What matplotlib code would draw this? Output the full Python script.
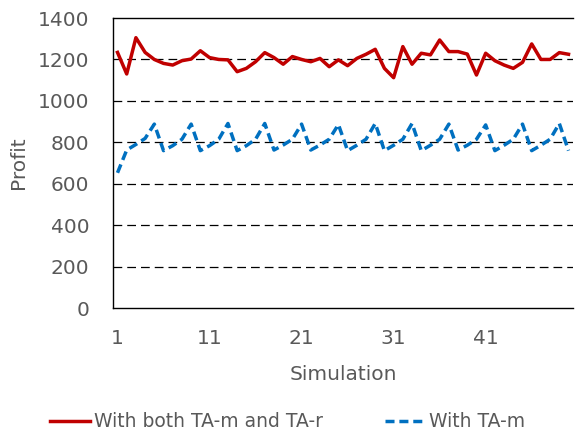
import matplotlib.pyplot as plt
import numpy as np

sims = np.arange(1, 51)

# With both TA-m and TA-r
both = [1234, 1130, 1305, 1234, 1200, 1181, 1173, 1194, 1202, 1242,
        1209, 1200, 1198, 1141, 1157, 1189, 1233, 1209, 1177, 1214,
        1200, 1189, 1205, 1165, 1198, 1170, 1205, 1225, 1249, 1157,
        1112, 1262, 1177, 1230, 1222, 1294, 1238, 1238, 1226, 1125,
        1230, 1194, 1173, 1157, 1186, 1275, 1200, 1200, 1233, 1225]

# With TA-m
only_m = [653, 763, 790, 819, 888, 760, 784, 815, 888, 760,
          784, 815, 891, 760, 784, 815, 891, 763, 787, 815,
          888, 763, 787, 815, 886, 760, 786, 815, 891, 760,
          786, 815, 891, 760, 786, 815, 888, 763, 786, 815,
          884, 760, 786, 815, 888, 760, 786, 815, 891, 760]

yticks = [0, 200, 400, 600, 800, 1000, 1200, 1400]
xticks = [1, 11, 21, 31, 41]

txt = '#595959'
fs = 14.5

fig = plt.figure(figsize=(5.76, 4.34), dpi=100)
ax = fig.add_axes([0.196, 0.29, 0.799, 0.6685])

for y in yticks[1:-1]:
    ax.axhline(y, color='black', lw=0.9, dashes=(7, 4), zorder=1)

ax.plot(sims, both, color='#C00000', lw=2.5, label='With both TA-m and TA-r', zorder=3)
ax.plot(sims, only_m, color='#0070C0', lw=2.5, dashes=(2.6, 1.4), label='With TA-m', zorder=3)

ax.set_xlim(0.5, 50.5)
ax.set_ylim(0, 1400)
ax.set_yticks(yticks)
ax.set_xticks(xticks)
ax.tick_params(length=0, labelsize=fs, labelcolor=txt)
ax.tick_params(axis='y', pad=17)
ax.tick_params(axis='x', pad=15)

for s in ['left', 'bottom', 'top']:
    ax.spines[s].set_color('black')
    ax.spines[s].set_linewidth(1.0)
ax.spines['right'].set_visible(False)

ax.set_xlabel('Simulation', fontsize=fs, color=txt, labelpad=12)
ax.set_ylabel('Profit', fontsize=fs, color=txt, labelpad=7)

fig.legend(loc='lower center', bbox_to_anchor=(0.5, -0.033), ncol=2, frameon=False,
           fontsize=13.5, labelcolor=txt, handlelength=2.1, handletextpad=0.25,
           columnspacing=3.3)

fig.savefig('out.png', dpi=100)
